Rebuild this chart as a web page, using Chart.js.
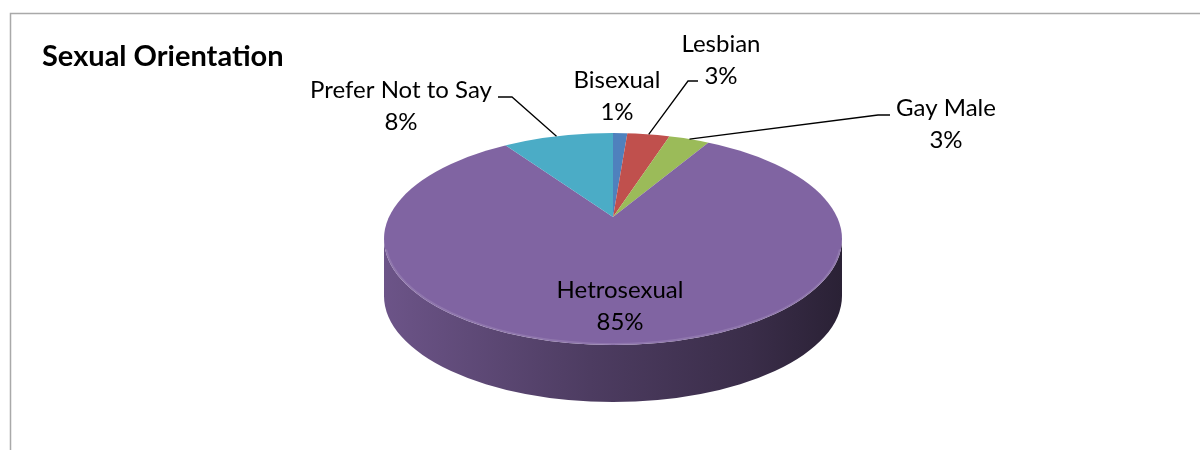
<!DOCTYPE html>
<html>
<head>
<meta charset="utf-8">
<script src="https://cdn.jsdelivr.net/npm/chart.js@4.4.0/dist/chart.umd.min.js"></script>
<style>
  html, body { margin: 0; padding: 0; background: #fff; }
  #wrap { width: 1200px; height: 450px; }
</style>
</head>
<body>
<div id="wrap"><canvas id="pieChart" width="1200" height="450"></canvas></div>
<script>
var categorias = ['Bisexual', 'Lesbian', 'Gay Male', 'Hetrosexual', 'Prefer Not to Say'];
var valores = [1, 3, 3, 85, 8];
var colores = ['#4F81BD', '#C0504D', '#9BBB59', '#8064A2', '#4BACC6'];

var fuente = 'Lato, "Open Sans", sans-serif';

// cara superior = elipse (cx, cy, rx, ry); el vertice queda mas arriba por la perspectiva
var pastel = { cx: 613, cy: 239, rx: 229, ry: 106, grosor: 57, vx: 613, vy: 217, ryArriba: 84, ryAbajo: 128 };

// posicion de cada etiqueta; "guia" = tramo horizontal de la linea hacia la rebanada
var posEtiquetas = [
  { x: 617, y: 80 },
  { x: 721, y: 44, guia: [698, 81, 688, 81] },
  { x: 946, y: 108, guia: [890, 115, 878, 115] },
  { x: 620, y: 290 },
  { x: 401, y: 90, guia: [498, 97, 512, 97] }
];

function sombra(hex, f) {
  var r = parseInt(hex.substr(1, 2), 16), g = parseInt(hex.substr(3, 2), 16), b = parseInt(hex.substr(5, 2), 16);
  return 'rgb(' + Math.round(r * f) + ',' + Math.round(g * f) + ',' + Math.round(b * f) + ')';
}

// lleva el pastel de Chart.js al vertice, aplastado en vertical
function transformar(ctx, a0, ry) {
  var s = 1.2 * pastel.rx / a0.outerRadius;
  ctx.translate(pastel.vx, pastel.vy);
  ctx.scale(s, s * ry / pastel.rx);
  ctx.translate(-a0.x, -a0.y);
}

function caraSuperior(ctx) {
  ctx.beginPath();
  ctx.ellipse(pastel.cx, pastel.cy, pastel.rx, pastel.ry, 0, 0, 2 * Math.PI);
}

// punto del borde en la direccion del angulo a, saliendo del vertice
function puntoBorde(a) {
  var p = pastel;
  var ry = Math.sin(a) < 0 ? p.ryArriba : p.ryAbajo;
  var dx = p.rx * Math.cos(a), dy = ry * Math.sin(a);
  var ox = p.vx - p.cx, oy = p.vy - p.cy;
  var A = dx * dx / (p.rx * p.rx) + dy * dy / (p.ry * p.ry);
  var B = 2 * (ox * dx / (p.rx * p.rx) + oy * dy / (p.ry * p.ry));
  var C = ox * ox / (p.rx * p.rx) + oy * oy / (p.ry * p.ry) - 1;
  var t = (-B + Math.sqrt(B * B - 4 * A * C)) / (2 * A);
  return [p.vx + t * dx, p.vy + t * dy];
}

var marco = {
  id: 'marco',
  beforeDraw: function (chart) {
    var ctx = chart.ctx;
    ctx.save();
    ctx.strokeStyle = '#a9a9a9';
    ctx.lineWidth = 1.5;
    ctx.strokeRect(10.5, 13.5, 1300, 600);
    ctx.restore();
  }
};

var pastel3d = {
  id: 'pastel3d',
  beforeDatasetsDraw: function (chart) {
    var ctx = chart.ctx;
    var arcos = chart.getDatasetMeta(0).data;
    var p = pastel;

    // pared lateral: solo la mitad de enfrente se ve
    arcos.forEach(function (arco, i) {
      [0, 2 * Math.PI].forEach(function (off) {
        var lo = Math.max(arco.startAngle, off);
        var hi = Math.min(arco.endAngle, Math.PI + off);
        if (lo >= hi) return;
        var grad = ctx.createLinearGradient(p.cx - p.rx, 0, p.cx + p.rx, 0);
        grad.addColorStop(0, sombra(colores[i], 0.84));
        grad.addColorStop(0.45, sombra(colores[i], 0.6));
        grad.addColorStop(0.8, sombra(colores[i], 0.45));
        grad.addColorStop(1, sombra(colores[i], 0.33));
        ctx.save();
        ctx.fillStyle = grad;
        ctx.beginPath();
        ctx.ellipse(p.cx, p.cy, p.rx, p.ry, 0, lo, hi);
        ctx.ellipse(p.cx, p.cy + p.grosor, p.rx, p.ry, 0, hi, lo, true);
        ctx.closePath();
        ctx.fill();
        ctx.restore();
      });
    });

    var a0 = arcos[0];
    // mitad de atras
    ctx.save();
    caraSuperior(ctx);
    ctx.clip();
    ctx.beginPath();
    ctx.rect(0, 0, chart.width, p.vy);
    ctx.clip();
    transformar(ctx, a0, p.ryArriba);
    arcos.forEach(function (arco) { arco.draw(ctx); });
    ctx.restore();

    // mitad de adelante (la dibuja Chart.js)
    ctx.save();
    caraSuperior(ctx);
    ctx.clip();
    ctx.beginPath();
    ctx.rect(0, p.vy, chart.width, chart.height);
    ctx.clip();
    transformar(ctx, a0, p.ryAbajo);
  },
  afterDatasetsDraw: function (chart) {
    var ctx = chart.ctx;
    ctx.restore();
    var p = pastel;
    var arcos = chart.getDatasetMeta(0).data;
    var total = valores.reduce(function (a, b) { return a + b; }, 0);

    // brillo suave en el borde frontal de la cara superior
    ctx.save();
    ctx.strokeStyle = 'rgba(255,255,255,0.12)';
    ctx.lineWidth = 2;
    ctx.beginPath();
    ctx.ellipse(p.cx, p.cy, p.rx - 1, p.ry - 1, 0, 0.1, Math.PI - 0.1);
    ctx.stroke();
    ctx.restore();

    ctx.save();
    ctx.font = '24px ' + fuente;
    ctx.fillStyle = '#000';
    ctx.textAlign = 'center';
    ctx.textBaseline = 'middle';
    arcos.forEach(function (arco, i) {
      var pos = posEtiquetas[i];
      var pct = Math.round(valores[i] / total * 100) + '%';
      ctx.fillText(categorias[i], pos.x, pos.y);
      ctx.fillText(pct, pos.x, pos.y + 32);
      if (pos.guia) {
        var b = puntoBorde((arco.startAngle + arco.endAngle) / 2);
        ctx.strokeStyle = '#000';
        ctx.lineWidth = 1.3;
        ctx.beginPath();
        ctx.moveTo(pos.guia[0], pos.guia[1]);
        ctx.lineTo(pos.guia[2], pos.guia[3]);
        ctx.lineTo(b[0], b[1]);
        ctx.stroke();
      }
    });
    ctx.restore();
  }
};

var ctx = document.getElementById('pieChart').getContext('2d');
var grafica = new Chart(ctx, {
  type: 'pie',
  data: {
    labels: categorias,
    datasets: [{
      data: valores,
      backgroundColor: colores,
      borderWidth: 0,
      clip: false
    }]
  },
  options: {
    responsive: false,
    animation: false,
    layout: { padding: { left: 42, top: 29 } },
    plugins: {
      legend: { display: false },
      tooltip: { enabled: false },
      title: {
        display: true,
        text: 'Sexual Orientation',
        align: 'start',
        color: '#000',
        font: { family: fuente, size: 29, weight: 'bold' },
        padding: { top: 10, bottom: 10 }
      }
    }
  },
  plugins: [marco, pastel3d]
});
</script>
</body>
</html>
